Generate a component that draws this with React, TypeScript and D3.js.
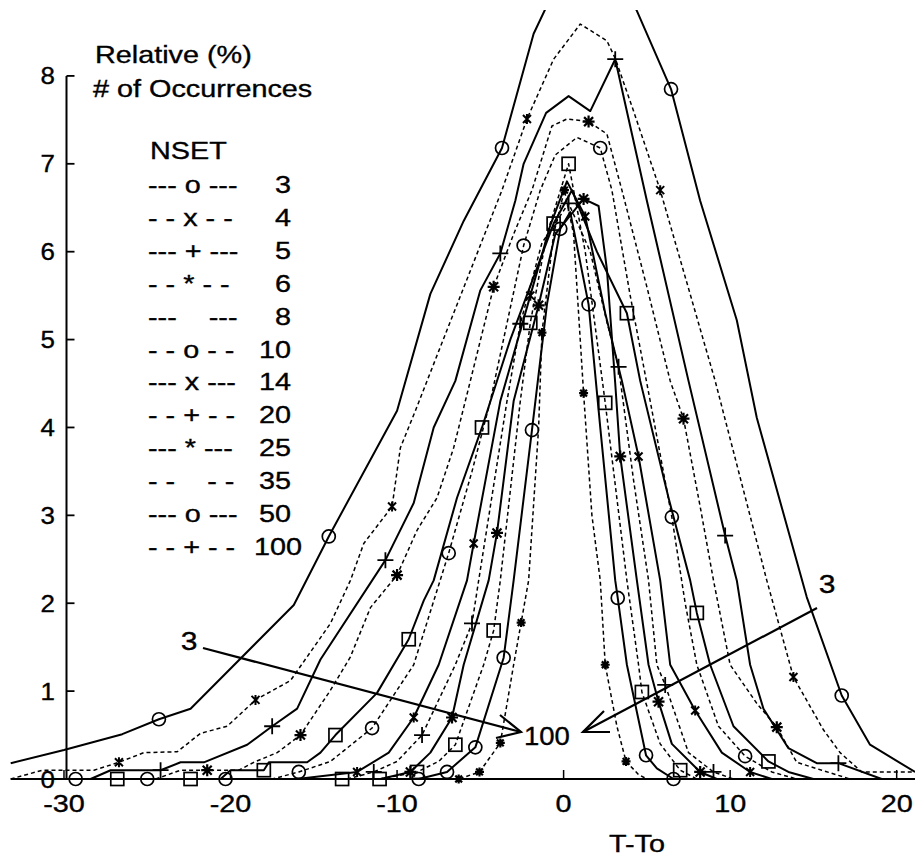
import React from "react";
import * as d3 from "d3";

// ---------- data ----------
const NSET = [3, 4, 5, 6, 8, 10, 14, 20, 25, 35, 50, 100];
const LEGEND_PATTERNS = [
  "--- o ---", "- - x - -", "--- + ---", "- - * - -", "---    ---", "- - o - -",
  "--- x ---", "- - + - -", "--- * ---", "- -    - -", "--- o ---", "- - + - -",
];
const X_TICKS = [-30, -20, -10, 0, 10, 20];
const Y_TICKS = [0, 1, 2, 3, 4, 5, 6, 7, 8];

// [T-To, relative %]
const S3 = [[-33.2,0.18],[-30,0.33],[-26.5,0.51],[-24.3,0.68],[-22.4,0.8],[-16.2,1.98],[-14.1,2.76],[-10,4.19],[-8,5.52],[-6,6.35],[-3.7,7.18],[-1.8,8.48],[1.5,9.8],[4.4,8.74],[6.45,7.85],[8.2,6.58],[10.4,5.22],[11.6,4.11],[14.6,2.07],[16.7,0.95],[18.4,0.39],[21.1,0.08]];
const M3 = [-24.3,-14.1,-3.7,6.45,16.7];

const S4 = [[-33.2,0],[-31.3,0.1],[-28.2,0.1],[-26.7,0.19],[-25.2,0.3],[-23.2,0.31],[-21.8,0.52],[-20.2,0.6],[-18.5,0.9],[-16.4,1.12],[-14,1.77],[-12.8,2.26],[-12,2.68],[-10.3,3.1],[-9.8,3.77],[-8.9,4.19],[-8.2,4.53],[-3.7,6.7],[-2.2,7.51],[-0.6,8.19],[1,8.59],[2.6,8.4],[3.1,8.2],[4.2,7.6],[5.8,6.7],[9.1,4.53],[12.2,2.26],[13.8,1.16],[15.6,0.56],[16.6,0.3],[17.9,0.08],[21.1,0.08]];
const M4 = [-26.7,-18.5,-10.3,-2.2,5.8,13.8];

const S5 = [[-28.4,0],[-27.2,0.1],[-24.2,0.1],[-23,0.19],[-21.6,0.19],[-19,0.39],[-17.5,0.6],[-16,0.8],[-14.6,1.36],[-10.7,2.49],[-9,3.14],[-7.8,4],[-6.5,4.53],[-5,5.56],[-3.8,5.98],[-2.9,6.58],[-2.4,7],[-1.05,7.58],[0.3,7.77],[1.6,7.6],[3.1,8.19],[5,6.58],[7.5,4.53],[9.7,2.77],[10.4,2.26],[11.2,1.3],[12,0.8],[13.5,0.35],[15.2,0.18],[16.5,0.18],[19.1,0]];
const M5 = [-24.2,-17.5,-10.7,-3.8,3.1,9.7,16.5];

const S6 = [[-24.5,0],[-23,0.1],[-21.4,0.1],[-19.5,0.1],[-18.6,0.19],[-17.2,0.3],[-15.8,0.5],[-14,1.01],[-12.8,1.39],[-11.6,1.95],[-10,2.32],[-8.8,2.83],[-7.6,3.2],[-6.6,3.77],[-5.6,4.53],[-4.2,5.6],[-3,6.2],[-1.9,6.7],[-0.7,7.43],[0.2,7.51],[1.5,7.48],[2.6,7.34],[3.5,6.7],[5,5.6],[6.4,4.53],[7.2,4.1],[8.2,3.1],[9,2.26],[10,1.3],[11.6,0.86],[12.8,0.59],[14,0.19],[15.5,0.1],[17.2,0]];
const M6 = [-21.4,-15.8,-10,-4.2,1.5,7.2,12.8];

const S8 = [[-30,0],[-26.8,0],[-22.4,0],[-20.6,0],[-20,0.1],[-18,0.1],[-17.7,0.19],[-15.4,0.19],[-14.6,0.3],[-13.7,0.5],[-11.2,0.98],[-9.3,1.59],[-8.4,2.03],[-7.8,2.26],[-6.4,3.2],[-4.9,4],[-3.2,5],[-0.6,6.32],[0.5,6.7],[2,6],[3.8,5.3],[4.6,4.53],[6.3,3.2],[7.6,2.26],[8,1.89],[8.8,1.3],[10.2,0.6],[12.3,0.2],[13.5,0.08],[15,0]];
const M8 = [-26.8,-22.4,-18,-13.7,-9.3,-4.9,-0.6,3.8,8,12.3];

const S10 = [[-31,0],[-29.3,0],[-25,0],[-20.3,0],[-17.5,0],[-15.9,0.08],[-14,0.2],[-11.5,0.58],[-9,1.3],[-6.9,2.57],[-5.5,3.5],[-4.4,4.3],[-2.4,6.07],[-1.4,6.7],[-0.5,7.1],[0.8,7.3],[2.2,7.18],[2.9,6.7],[4,5.5],[5.2,4.3],[6.5,2.98],[7.3,2],[8,1.3],[9.3,0.6],[10.9,0.26],[12.5,0.08],[14,0]];
const M10 = [-29.3,-25,-20.3,-15.9,-11.5,-6.9,-2.4,2.2,6.5,10.9];

const S14 = [[-16,0],[-12.4,0.08],[-10.5,0.3],[-9,0.7],[-7.5,1.3],[-5.8,2.26],[-5.4,2.68],[-3.8,4.3],[-2,5.5],[-0.8,6.3],[0.2,6.8],[1.3,6.4],[2.5,5.3],[3.5,4.53],[4.5,3.67],[5.8,2.26],[6.4,1.3],[7.9,0.78],[9.5,0.3],[11.2,0.08],[12.5,0]];
const M14 = [-12.4,-9,-5.4,-2,1.3,4.5,7.9,11.2];

const S20 = [[-13,0],[-11.4,0.08],[-10,0.2],[-8.5,0.5],[-6.5,1.3],[-5.5,1.77],[-5.1,2.26],[-3.4,4.3],[-2.6,5.18],[-1.3,6.1],[0.3,6.55],[1.6,6],[2.6,5.2],[3.3,4.69],[4.2,3.4],[5.1,2.26],[5.6,1.3],[6.1,1.07],[7.5,0.3],[9,0.08],[10.2,0]];
const M20 = [-11.4,-8.5,-5.5,-2.6,0.3,3.3,6.1,9];

const S25 = [[-11,0],[-9.2,0.08],[-8,0.3],[-6.7,0.7],[-6,1.3],[-4.5,2.26],[-4,2.8],[-3,4.3],[-1.5,5.39],[-0.5,6.2],[1.2,6.6],[2.1,6.52],[2.6,5.8],[3.1,4.5],[3.4,3.67],[4.4,2.26],[5.1,1.3],[5.7,0.88],[6.5,0.4],[8.2,0.08],[9.2,0]];
const M25 = [-9.2,-6.7,-4,-1.5,1.2,3.4,5.7,8.2];

const S35 = [[-14,0],[-13.3,0],[-11.05,0],[-8.8,0.08],[-7.5,0.2],[-6.5,0.39],[-4.8,1.3],[-4.2,1.69],[-3.8,2.26],[-2.6,4.3],[-2,5.19],[-1,6.2],[0.3,7],[1.3,6],[2,5],[2.5,4.28],[3.8,2.26],[4.5,1.3],[4.7,0.99],[5.8,0.4],[7,0.1],[8,0]];
const M35 = [-13.3,-11.05,-8.8,-6.5,-4.2,-2,0.3,2.5,4.7,7];

const S50 = [[-10,0],[-8.7,0],[-7,0.08],[-5.3,0.36],[-3.6,1.38],[-3,2.26],[-1.9,3.97],[-1,5.4],[-0.2,6.26],[0.4,6.45],[1.5,5.4],[2.2,4],[3.1,2.26],[3.25,2.06],[3.8,1.3],[4.95,0.27],[5.6,0.12],[6.6,0]];
const M50 = [-8.7,-7,-5.3,-3.6,-1.9,-0.2,1.5,3.25,4.95,6.6];

const S100 = [[-7.5,0],[-6.3,0],[-5.05,0.08],[-3.8,0.41],[-3,1.3],[-2.55,1.78],[-2.1,2.26],[-1.5,4],[-1.3,5.08],[-0.6,6.2],[0.05,6.7],[0.6,6.2],[1.2,4.39],[1.7,3],[2.2,2.26],[2.5,1.3],[3.2,0.6],[3.75,0.2],[4.5,0.05],[5,0]];
const M100 = [-6.3,-5.05,-3.8,-2.55,-1.3,0.05,1.2,2.5,3.75];

const SERIES_POINTS = [S3, S4, S5, S6, S8, S10, S14, S20, S25, S35, S50, S100];
const SERIES_MARKS = [M3, M4, M5, M6, M8, M10, M14, M20, M25, M35, M50, M100];
const SERIES_SYMBOL = ["o", "x", "+", "*", "s", "o", "x", "+", "*", "s", "o", "*"];

// ---------- layout ----------
const W = 915, H = 857;
const FONT = "'Liberation Sans', Arial, Helvetica, sans-serif";
const x = d3.scaleLinear().domain([-33.2, 21.1]).range([10.7, 915]);
const y = d3.scaleLinear().domain([0, 8.75]).range([779, 10]);
const AXIS_X = 66.5;

function Stretch({ tx, ty, size = 24, sx = 1.2, anchor = "start", children }: any) {
  return (
    <text
      transform={`translate(${tx},${ty}) scale(${sx},1)`}
      fontSize={size}
      fontFamily={FONT}
      textAnchor={anchor}
      fill="#000"
      stroke="#000"
      strokeWidth={0.35}
      style={{ whiteSpace: "pre" }}
    >
      {children}
    </text>
  );
}

function Marker({ sym, cx, cy, small }: any) {
  const st = { stroke: "#000", fill: "none" };
  if (sym === "o") return <circle cx={cx} cy={cy} r={6.5} {...st} strokeWidth={1.7} />;
  if (sym === "s") return <rect x={cx - 6.5} y={cy - 6.5} width={13} height={13} {...st} strokeWidth={1.7} />;
  if (sym === "+") {
    const s = 8;
    return <path d={`M${cx - s},${cy}H${cx + s}M${cx},${cy - s}V${cy + s}`} {...st} strokeWidth={1.8} />;
  }
  if (sym === "x") {
    const s = 4;
    return <path d={`M${cx - s},${cy - s}L${cx + s},${cy + s}M${cx - s},${cy + s}L${cx + s},${cy - s}M${cx},${cy - s - 1}V${cy + s + 1}`} {...st} strokeWidth={2} />;
  }
  const s = small ? 4.5 : 6;
  const d = s * 0.75;
  return (
    <path
      d={`M${cx},${cy - s}V${cy + s}M${cx - s},${cy}H${cx + s}M${cx - d},${cy - d}L${cx + d},${cy + d}M${cx - d},${cy + d}L${cx + d},${cy - d}`}
      {...st}
      strokeWidth={2.2}
    />
  );
}

export default function App() {
  const line = d3.line<number[]>().x((d) => x(d[0])).y((d) => y(d[1]));

  const legendY = (i: number) => 193 + i * 32.9;

  return (
    <svg
      width={W}
      height={H}
      viewBox={`0 0 ${W} ${H}`}
      style={{ position: "absolute", left: 0, top: 0, background: "#fff", display: "block" }}
    >
      <rect x={0} y={0} width={W} height={H} fill="#fff" />
      <defs>
        <clipPath id="plotclip">
          <rect x={8} y={10} width={W - 8} height={790} />
        </clipPath>
      </defs>

      {/* axes */}
      <line x1={AXIS_X} x2={AXIS_X} y1={y(8)} y2={y(0)} stroke="#000" strokeWidth={2} />
      <line x1={x.range()[0]} x2={W} y1={y(0)} y2={y(0)} stroke="#000" strokeWidth={2} />
      {Y_TICKS.map((t) => (
        <g key={"yt" + t}>
          <line x1={AXIS_X} x2={AXIS_X + 8} y1={y(t)} y2={y(t)} stroke="#000" strokeWidth={1.8} />
          <Stretch tx={55} ty={y(t) + 8.5} anchor="end" sx={1.08}>
            {String(t)}
          </Stretch>
        </g>
      ))}
      {X_TICKS.map((t) => (
        <g key={"xt" + t}>
          <line x1={x(t)} x2={x(t)} y1={y(0)} y2={y(0) - 9} stroke="#000" strokeWidth={1.5} />
          <Stretch tx={x(t)} ty={812} anchor="middle">
            {String(t)}
          </Stretch>
        </g>
      ))}
      <Stretch tx={637} ty={852} anchor="middle">T-To</Stretch>

      {/* series */}
      <g clipPath="url(#plotclip)">
        {SERIES_POINTS.map((pts, i) => {
          const dashed = i % 2 === 1;
          return (
            <path
              key={"s" + i}
              d={line(pts as any) || ""}
              fill="none"
              stroke="#000"
              strokeWidth={dashed ? 1.5 : 2}
              strokeDasharray={dashed ? "4 3" : undefined}
              strokeLinejoin="round"
            />
          );
        })}
        {SERIES_POINTS.map((pts, i) =>
          SERIES_MARKS[i].map((mx, j) => {
            const p = pts.find((q) => q[0] === mx);
            if (!p) return null;
            return <Marker key={`m${i}-${j}`} sym={SERIES_SYMBOL[i]} cx={x(p[0])} cy={y(p[1])} small={NSET[i] === 100} />;
          })
        )}
      </g>

      {/* axis title / legend */}
      <Stretch tx={95} ty={63}>Relative (%)</Stretch>
      <Stretch tx={93} ty={97}># of Occurrences</Stretch>
      <Stretch tx={150} ty={159}>NSET</Stretch>
      {NSET.map((n, i) => (
        <g key={"lg" + n}>
          <Stretch tx={148} ty={legendY(i)}>{LEGEND_PATTERNS[i]}</Stretch>
          <Stretch tx={n === 100 ? 302 : 291} ty={legendY(i)} anchor="end">{String(n)}</Stretch>
        </g>
      ))}

      {/* arrows: 3 -> 100 */}
      <g stroke="#000" strokeWidth={2.2} fill="none">
        <line x1={203} y1={648} x2={521} y2={732} />
        <path d="M500,715 L521,732 L496,738" />
        <line x1={817} y1={608} x2={583} y2={732} />
        <path d="M604,711 L583,732 L610,732" />
      </g>
      <Stretch tx={189} ty={650} anchor="middle" size={25}>3</Stretch>
      <Stretch tx={827} ty={593} anchor="middle" size={25}>3</Stretch>
      <Stretch tx={524} ty={745} size={25} sx={1.1}>100</Stretch>
    </svg>
  );
}
